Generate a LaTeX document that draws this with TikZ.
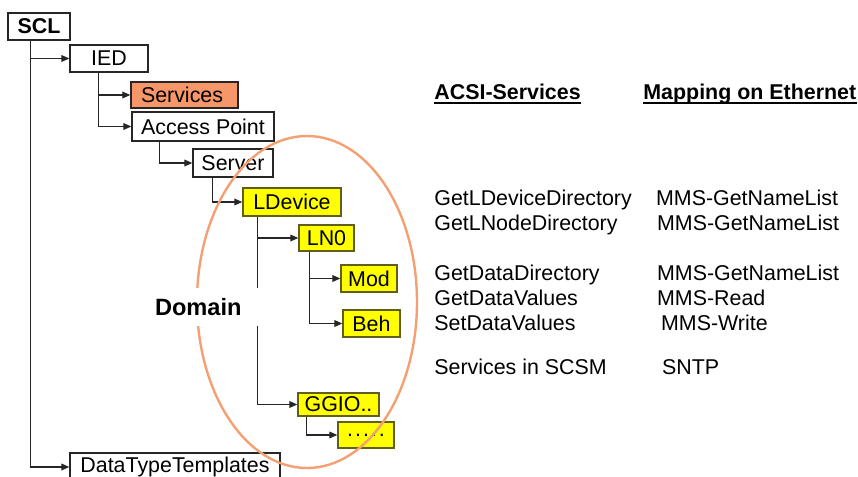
\documentclass[tikz,border=0pt]{standalone}
\usepackage{fontspec}
\setmainfont{Liberation Sans}
\usetikzlibrary{arrows.meta,shapes.geometric}
\definecolor{svcfill}{RGB}{247,150,105}
\definecolor{ringcol}{RGB}{245,160,115}
\definecolor{lnfill}{RGB}{255,255,0}
\definecolor{lnedge}{RGB}{95,95,25}
\begin{document}
\begin{tikzpicture}[x=0.5pt,y=-0.5pt,
  every node/.style={font=\fontsize{10.7}{12.8}\selectfont},
  box/.style={draw=black!85, line width=0.7pt, inner sep=0pt, fill=white},
  yel/.style={box, fill=lnfill, draw=lnedge},
  link/.style={draw=black!85, line width=0.55pt, -{Triangle[length=4pt,width=3.4pt]}},
  lbl/.style={anchor=base west, inner sep=0pt},
  head/.style={lbl, font=\fontsize{10.7}{12.8}\selectfont\bfseries},
  uline/.style={line width=1pt}]
\useasboundingbox (0,0) rectangle (858,477);

% --- tree of SCL elements ---
\node[box, minimum width=31pt, minimum height=13.5pt,
      font=\fontsize{10.7}{12.8}\selectfont\bfseries] (scl) at (39,26.5) {SCL};
\node[box, minimum width=39pt, minimum height=13.5pt] (ied) at (109,58.5) {IED};
\node[box, fill=svcfill, minimum width=53.5pt, minimum height=13pt,
      text width=43.5pt, align=left, inner xsep=5pt] (svc) at (184.5,95) {Services};
\node[box, minimum width=71pt, minimum height=14.5pt] (ap) at (203,126.5) {Access Point};
\node[box, minimum width=40pt, minimum height=14pt] (srv) at (233,163) {Server};
\node[yel, minimum width=49pt, minimum height=14pt] (ld) at (292,202) {LDevice};
\node[yel, minimum width=27.5pt, minimum height=13pt] (ln0) at (326.5,238) {LN0};
\node[yel, minimum width=28pt, minimum height=13.5pt] (mod) at (369,278.5) {Mod};
\node[yel, minimum width=28.5pt, minimum height=13.5pt] (beh) at (371.5,323.5) {Beh};
\node[yel, minimum width=40.5pt, minimum height=11.5pt] (ggio) at (338.5,404.5) {GGIO..};
\node[yel, minimum width=28pt, minimum height=13pt] (more) at (366,435)
      {.\kern1pt.\kern1pt.\kern1pt.\kern1pt.};
\node[box, minimum width=105pt, minimum height=14pt] (dtt) at (175,467) {DataTypeTemplates};

% --- hierarchy links ---
\draw[link] ([xshift=11.5pt]scl.south west) |- (ied.west);
\draw[link] ([xshift=11.5pt]scl.south west) |- (dtt.west);
\draw[link] ([xshift=14.5pt]ied.south west) |- (svc.west);
\draw[link] ([xshift=14.5pt]ied.south west) |- (ap.west);
\draw[link] ([xshift=14pt]ap.south west) |- (srv.west);
\draw[link] ([xshift=10pt]srv.south west) |- (ld.west);
\draw[link] ([xshift=7.5pt]ld.south west) |- (ln0.west);
\draw[link] ([xshift=7.5pt]ld.south west) |- (ggio.west);
\draw[link] ([xshift=5.5pt]ln0.south west) |- (mod.west);
\draw[link] ([xshift=5.5pt]ln0.south west) |- (beh.west);
\draw[link] ([xshift=4.5pt]ggio.south west) |- (more.west);

% --- domain ring ---
\node[draw=ringcol, line width=1.2pt, ellipse, inner sep=0pt,
      minimum width=110pt, minimum height=166pt] (ring) at (307,302) {};
\node[fill=white, inner sep=0pt, minimum width=56pt, minimum height=19pt,
      font=\fontsize{11.8}{14}\selectfont\bfseries] (domain) at (203,307)
      {\makebox[56pt][l]{\hspace{4pt}Domain}};

% --- service table ---
\node[head] (hacsi) at (434,99) {ACSI-Services};
\node[head] (hmap) at (643,99) {Mapping on Ethernet};
\draw[uline] ([yshift=-2.2pt]hacsi.base west) -- ([yshift=-2.2pt]hacsi.base east);
\draw[uline] ([yshift=-2.2pt]hmap.base west) -- ([yshift=-2.2pt]hmap.base east);

\node[lbl] (a1) at (434,205.7) {GetLDeviceDirectory};
\node[lbl] (a2) at (434,230.7) {GetLNodeDirectory};
\node[lbl] (a3) at (434,280) {GetDataDirectory};
\node[lbl] (a4) at (434,305) {GetDataValues};
\node[lbl] (a5) at (434,330) {SetDataValues};
\node[lbl] (a6) at (434,374) {Services in SCSM};

\node[lbl] (m1) at (655.7,205.7) {MMS-GetNameList};
\node[lbl] (m2) at (656.7,230.7) {MMS-GetNameList};
\node[lbl] (m3) at (656.7,280) {MMS-GetNameList};
\node[lbl] (m4) at (656.7,305) {MMS-Read};
\node[lbl] (m5) at (660.7,330) {MMS-Write};
\node[lbl] (m6) at (661.7,374) {SNTP};
\end{tikzpicture}
\end{document}
